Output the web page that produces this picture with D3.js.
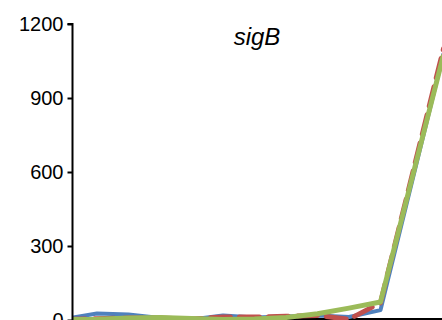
<!DOCTYPE html>
<html>
<head>
<meta charset="utf-8">
<script src="https://cdn.jsdelivr.net/npm/d3@7"></script>
<style>
  html, body { margin: 0; padding: 0; background: #fff; }
  svg { display: block; }
  text { font-family: "Liberation Sans", Arial, sans-serif; fill: #000; }
</style>
</head>
<body>
<svg id="chart" width="442" height="320"></svg>
<script>
// Sampling times (h) and expression levels for sigB
const times = [0, 1, 2, 3, 4, 5, 6, 7, 8, 9, 10, 12];
const seriesBlue  = [5, 26, 22, 8, 2, 18, 10, 14, 18, 12, 40, 1080];
const seriesRed   = [3, 5, 8, 8, 4, 12, 12, 15, 18, 3, 70, 1100];
const seriesGreen = [2, 3, 8, 10, 6, 2, 4, 10, 25, 48, 73, 1075];
const yTicks = [0, 300, 600, 900, 1200];
const title = "sigB";

const svg = d3.select("#chart");
const W = 442, H = 320;

const x = d3.scaleLinear().domain([0, 12]).range([65.5, 443.5]);
const y = d3.scaleLinear().domain([0, 1200]).range([320, 24]);

// Plot area clip so lines stop at the value axis
svg.append("defs").append("clipPath").attr("id", "plot")
  .append("rect").attr("x", 73).attr("y", 0).attr("width", W - 73).attr("height", H);

const line = d3.line().x((d, i) => x(times[i])).y(d => y(d));

const g = svg.append("g").attr("clip-path", "url(#plot)");

// x baseline
g.append("line")
  .attr("x1", 72).attr("x2", W)
  .attr("y1", y(0) - 1).attr("y2", y(0) - 1)
  .attr("stroke", "#000").attr("stroke-width", 2);

g.append("path").datum(seriesBlue)
  .attr("d", line).attr("fill", "none")
  .attr("stroke", "#4f81bd").attr("stroke-width", 4)
  .attr("stroke-linejoin", "round");

g.append("path").datum(seriesRed)
  .attr("d", line).attr("fill", "none")
  .attr("stroke", "#c0504d").attr("stroke-width", 5)
  .attr("stroke-dasharray", "20,9")
  .attr("stroke-linecap", "round")
  .attr("stroke-linejoin", "round");

g.append("path").datum(seriesGreen)
  .attr("d", line).attr("fill", "none")
  .attr("stroke", "#9bbb59").attr("stroke-width", 5)
  .attr("stroke-linejoin", "round");

// value axis
const yAxis = d3.axisLeft(y).tickValues(yTicks).tickFormat(d3.format("d"))
  .tickSize(5).tickPadding(4);
const ax = svg.append("g").attr("transform", "translate(72.5,0)").call(yAxis);
ax.select(".domain").attr("stroke", "#000").attr("stroke-width", 2)
  .attr("d", `M-5,${y(1200)}H0V${H + 2}`);
ax.selectAll(".tick line").attr("stroke", "#000").attr("stroke-width", 2);
ax.selectAll(".tick text")
  .style("font-family", "'Liberation Sans', Arial, sans-serif")
  .style("font-size", "20px").attr("fill", "#000");

// panel title
svg.append("text")
  .attr("x", 257).attr("y", 45)
  .attr("text-anchor", "middle")
  .style("font-size", "24px").style("font-style", "italic")
  .text(title);
</script>
</body>
</html>
